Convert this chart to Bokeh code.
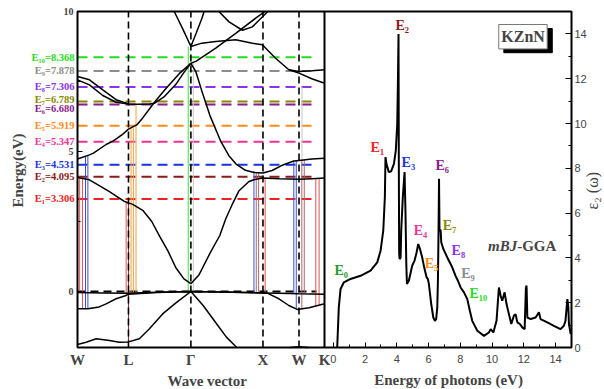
from math import pi

from bokeh.plotting import figure
from bokeh.models import Range1d, LinearAxis, FixedTicker, Label, ColumnDataSource
from bokeh.embed import file_html
from bokeh.resources import INLINE

SERIF = "Liberation Serif"
SANS = "Liberation Sans"
SUB = str.maketrans("0123456789", "₀₁₂₃₄₅₆₇₈₉")

# ---------------- band structure (k in units of 2π/a, E in eV) ----------------
kpoint_labels = ["W", "L", "Γ", "X", "W", "K"]
kpoint_pos = [0.0, 0.7071, 1.5731, 2.5731, 3.0731, 3.4267]

vb1_k = [0.0, 0.35, 0.707, 1.1, 1.573, 2.0, 2.573, 2.8, 3.073, 3.427]
vb1_e = [-0.04, -0.05, -0.06, -0.03, 0.0, -0.02, -0.05, -0.06, -0.08, -0.1]
vb2_k = [0.0, 0.144, 0.30, 0.397, 0.535, 0.674, 0.707, 1.1, 1.573, 2.0, 2.573, 2.633, 2.794, 2.932, 3.048, 3.213, 3.427]
vb2_e = [-0.62, -0.62, -0.55, -0.44, -0.26, -0.14, -0.1, -0.04, 0.0, -0.02, -0.05, -0.06, -0.26, -0.5, -0.64, -0.58, -0.44]
vb3_k = [0.0, 0.12, 0.259, 0.443, 0.581, 0.707, 0.858, 0.998, 1.181, 1.37, 1.573, 1.743, 1.929, 2.066, 2.21]
vb3_e = [-1.89, -1.81, -1.69, -1.75, -1.81, -1.8, -1.69, -1.33, -0.8, -0.4, 0.0, -0.5, -1.15, -1.63, -2.0]
vb4_k = [2.95, 3.073, 3.2]
vb4_e = [-2.0, -1.97, -2.0]

cb1_k = [0.0, 0.166, 0.443, 0.65, 0.707, 0.76, 0.905, 1.03, 1.144, 1.254, 1.365, 1.476, 1.573,
         1.687, 1.835, 1.974, 2.057, 2.154, 2.241, 2.379, 2.458, 2.573, 2.8, 3.073, 3.25, 3.427]
cb1_e = [4.07, 3.99, 3.57, 3.22, 3.16, 3.12, 2.9, 2.5, 1.95, 1.45, 0.85, 0.45, 0.28,
         0.6, 1.35, 2.0, 2.6, 3.15, 3.6, 3.93, 4.0, 4.05, 4.03, 4.01, 4.03, 4.05]
cb2_k = [1.573, 1.642, 1.72, 1.835, 1.99, 2.1, 2.2, 2.33, 2.45, 2.573, 2.7, 2.85, 3.0, 3.073, 3.25, 3.427]
cb2_e = [8.15, 7.85, 7.2, 6.3, 5.35, 4.85, 4.55, 4.33, 4.25, 4.23, 4.32, 4.52, 4.66, 4.68, 4.73, 4.76]
cb3_k = [0.0, 0.166, 0.221, 0.397, 0.498, 0.62, 0.707, 0.822, 0.905, 1.065, 1.227, 1.411, 1.573]
cb3_e = [4.73, 4.88, 4.94, 5.25, 5.38, 5.6, 5.8, 5.95, 6.2, 6.75, 7.25, 7.78, 8.15]
cb4_k = [0.0, 0.166, 0.351, 0.535, 0.707, 0.85, 1.0, 1.065, 1.2, 1.365, 1.47, 1.573]
cb4_e = [7.68, 7.56, 7.2, 6.85, 6.7, 6.69, 6.7, 6.72, 6.95, 7.4, 7.8, 8.15]
cb5_k = [0.0, 0.166, 0.351, 0.535, 0.707]
cb5_e = [7.56, 7.38, 7.0, 6.76, 6.7]
cb6_k = [1.342, 1.46, 1.573, 1.65, 1.725, 1.757]
cb6_e = [10.0, 9.38, 8.75, 9.25, 9.75, 10.0]
cb7_k = [1.573, 1.725, 1.918, 2.195, 2.426, 2.564, 2.748, 2.932, 3.073, 3.25, 3.427]
cb7_e = [8.75, 8.87, 8.93, 8.99, 8.87, 8.81, 8.33, 7.92, 7.86, 7.88, 7.92]
cb8_k = [2.932, 3.073, 3.25, 3.427]
cb8_e = [7.92, 7.8, 7.6, 7.44]
cb9_k = [1.573, 1.642, 1.918, 2.195, 2.472, 2.60]
cb9_e = [8.15, 8.22, 8.69, 9.22, 9.76, 10.0]
cb10_k = [1.962, 2.102, 2.288, 2.426, 2.64]
cb10_e = [10.0, 9.63, 9.33, 9.45, 10.0]

# critical-point transition energies E1..E10 (eV)
trans_energy = [3.306, 4.095, 4.531, 5.347, 5.919, 6.680, 6.789, 7.306, 7.878, 8.368]
trans_color = ["#ee2222", "#8b1a1a", "#1a33dd", "#ee3399", "#ff8c1a",
               "#8b1a8b", "#888800", "#8833ee", "#8c8c8c", "#22dd22"]

# vertical interband transitions drawn in the band diagram
tr_k = [0.030, 0.069, 0.111, 0.144, 0.675, 0.707, 0.743, 0.775, 0.812, 1.536, 1.607,
        2.448, 2.48, 2.513, 2.603, 3.001, 3.035, 3.112, 3.146, 3.115, 3.306, 3.352]
tr_lo = [-0.05, -0.62, -0.62, -0.62, -0.13, -1.8, -0.06, -0.06, -0.06, 0.0, 0.0,
         -0.05, -0.05, -0.05, -0.05, -0.07, -0.6, -0.62, -0.07, 4.7, -0.5, -0.47]
tr_hi = [4.06, 4.03, 4.82, 4.86, 3.2, 3.16, 5.82, 5.86, 6.7, 8.75, 8.15,
         4.3, 4.27, 4.25, 4.05, 4.66, 4.67, 4.7, 4.71, 7.31, 4.03, 4.04]
tr_color = ["#e85050", "#e85050", "#3a4fd8", "#3a4fd8", "#e85050", "#9b2323",
            "#f0a040", "#f0a040", "#f0a040", "#3ddc3d", "#c8c8c8",
            "#3a4fd8", "#a86a6a", "#a86a6a", "#e85050", "#3a4fd8", "#3a4fd8",
            "#a86a6a", "#a86a6a", "#c8c8c8", "#e85050", "#e85050"]

# ---------------- imaginary dielectric function ----------------
photon_energy = [0.25, 0.35, 0.46, 0.67, 1.09, 1.72, 2.35, 2.77, 2.98, 3.15, 3.25, 3.29, 3.35, 3.5,
                 3.65, 3.82, 3.94, 4.03, 4.07, 4.11, 4.13, 4.15, 4.18, 4.24, 4.28, 4.38, 4.49, 4.55,
                 4.6, 4.64, 4.76, 4.97, 5.12, 5.25, 5.35, 5.46, 5.6, 5.75, 5.88, 5.96, 6.02, 6.17,
                 6.3, 6.4, 6.48, 6.55, 6.59, 6.63, 6.66, 6.69, 6.76, 6.8, 6.93, 7.18, 7.49, 7.7,
                 7.85, 8.02, 8.23, 8.44, 8.6, 8.75, 9.07, 9.49, 9.8, 9.91, 10.08, 10.28, 10.43,
                 10.54, 10.64, 10.79, 10.91, 11.06, 11.21, 11.37, 11.48, 11.59, 11.75, 11.9, 12.05,
                 12.13, 12.17, 12.22, 12.43, 12.74, 12.95, 13.05, 13.48, 13.89, 14.31, 14.52,
                 14.62, 14.74, 14.8, 14.84, 14.95]
eps2 = [0.0, 1.79, 2.61, 2.91, 3.06, 3.2, 3.43, 3.8, 4.32, 5.22, 6.71, 8.5, 8.2, 7.83,
        7.87, 8.2, 8.8, 9.99, 11.78, 14.0, 8.0, 4.2, 3.95, 4.0, 5.22, 6.71, 7.83, 5.97,
        3.73, 2.84, 2.98, 3.65, 3.88, 4.25, 4.62, 4.4, 4.02, 3.5, 3.13, 3.05, 2.84, 1.94,
        1.34, 1.19, 1.27, 1.79, 2.98, 5.22, 7.53, 5.22, 5.25, 4.7, 4.4, 4.02, 3.58, 3.2,
        2.98, 2.68, 2.46, 2.16, 1.64, 1.19, 0.75, 0.52, 0.67, 0.82, 0.67, 1.19, 2.68,
        2.31, 2.09, 2.46, 1.94, 1.49, 1.05, 1.42, 1.49, 1.12, 1.05, 0.9, 0.82,
        2.68, 2.76, 1.34, 1.27, 1.34, 1.57, 1.27, 1.12, 0.97, 0.82, 0.97,
        1.19, 2.16, 1.79, 1.05, 0.6]

peak_names = ["E0", "E1", "E2", "E3", "E4", "E5", "E6", "E7", "E8", "E9", "E10"]
peak_colors = ["#1f9a2a"] + trans_color

# ---------------- layout (pixels) ----------------
FIG_W, FIG_H = 604, 389
PLOT_L, SPLIT, PLOT_R = 77, 324, 571      # panel edges
PLOT_T, PLOT_B = 11, 347
K_END = kpoint_pos[-1]
E_LO, E_HI = -2.0, 10.0
EV_LO, EV_HI = -0.55, 15.0
EPS_LO, EPS_HI = 0.0, 15.0
DASH_END = 3.316

# the frame fills the canvas; ranges are set so each panel lands on its pixel box
k_px = K_END / (SPLIT - PLOT_L)
e_px = (E_HI - E_LO) / (PLOT_B - PLOT_T)
ev_px = (EV_HI - EV_LO) / (PLOT_R - SPLIT)
eps_px = (EPS_HI - EPS_LO) / (PLOT_B - PLOT_T)
x_main = Range1d(-PLOT_L * k_px, (FIG_W - PLOT_L) * k_px)
y_main = Range1d(E_LO - (FIG_H - PLOT_B) * e_px, E_HI + PLOT_T * e_px)
x_ev = Range1d(EV_LO - SPLIT * ev_px, EV_HI + (FIG_W - PLOT_R) * ev_px)
y_eps = Range1d(EPS_LO - (FIG_H - PLOT_B) * eps_px, EPS_HI + PLOT_T * eps_px)
K_RIGHT = (PLOT_R - PLOT_L) * k_px

# label anchors (data units of each panel)
label_shift = [0, 0, 0, 0, 0, -0.15, 0.07, 0, 0, 0]
peak_lx = [0.08, 2.35, 3.92, 4.30, 5.07, 5.76, 6.44, 6.90, 7.45, 8.06, 8.58]
peak_ly = [3.44, 8.94, 14.37, 8.27, 5.22, 3.74, 8.13, 5.45, 4.33, 3.32, 2.42]

p = figure(width=FIG_W, height=FIG_H, x_range=x_main, y_range=y_main,
           x_axis_location=None, y_axis_location=None,
           output_backend="svg", toolbar_location=None,
           min_border=0, min_border_left=0, min_border_right=0,
           min_border_top=0, min_border_bottom=0)
p.extra_x_ranges = {"ev": x_ev}
p.extra_y_ranges = {"eps": y_eps}
p.grid.visible = False
p.background_fill_color = "white"
p.border_fill_color = "white"
p.outline_line_color = None

# energy axis of the band panel
e_axis = LinearAxis(fixed_location=0.0,
                    ticker=FixedTicker(ticks=[0, 5, 10], minor_ticks=[2.5, 7.5]),
                    major_tick_in=5, major_tick_out=0, minor_tick_in=3, minor_tick_out=0,
                    axis_line_color=None, major_label_text_font=SERIF,
                    major_label_text_font_style="bold", major_label_text_font_size="10px",
                    major_label_standoff=4)
p.add_layout(e_axis, "left")

# photon energy axis
ev_axis = LinearAxis(x_range_name="ev", y_range_name="eps", fixed_location=EPS_LO,
                     ticker=FixedTicker(ticks=list(range(0, 15, 2)), minor_ticks=list(range(1, 15, 2))),
                     major_tick_in=5, major_tick_out=0, minor_tick_in=3, minor_tick_out=0,
                     axis_line_color=None, major_label_text_font=SANS,
                     major_label_text_font_size="11px", major_label_text_color="#444444",
                     major_label_standoff=7)
p.add_layout(ev_axis, "below")

# epsilon_2 axis
eps_axis = LinearAxis(x_range_name="ev", y_range_name="eps", fixed_location=EV_HI,
                      ticker=FixedTicker(ticks=list(range(0, 15, 2)), minor_ticks=list(range(1, 15, 2))),
                      major_tick_in=6, major_tick_out=0, minor_tick_in=3, minor_tick_out=0,
                      axis_line_color=None, major_label_text_font=SANS,
                      major_label_text_font_size="11px", major_label_text_color="#444444",
                      major_label_standoff=3)
p.add_layout(eps_axis, "right")

# coloured transition-energy levels
lvl = ColumnDataSource(dict(x0=[0.0] * len(trans_energy), x1=[DASH_END] * len(trans_energy),
                            y=trans_energy, c=trans_color))
p.segment(x0="x0", y0="y", x1="x1", y1="y", line_color="c", line_width=2,
          line_dash="10 6", source=lvl)
# Fermi level
p.segment(x0=[0.0], y0=[0.0], x1=[DASH_END], y1=[0.0], line_color="black",
          line_width=2, line_dash="8 5")

# vertical transitions
trs = ColumnDataSource(dict(k=tr_k, lo=tr_lo, hi=tr_hi, c=tr_color))
p.segment(x0="k", y0="lo", x1="k", y1="hi", line_color="c", line_width=1, source=trs)

# bands
bands_k = [vb1_k, vb2_k, vb3_k, vb4_k, cb1_k, cb2_k, cb3_k, cb4_k, cb5_k,
           cb6_k, cb7_k, cb8_k, cb9_k, cb10_k]
bands_e = [vb1_e, vb2_e, vb3_e, vb4_e, cb1_e, cb2_e, cb3_e, cb4_e, cb5_e,
           cb6_e, cb7_e, cb8_e, cb9_e, cb10_e]
p.multi_line(xs=bands_k, ys=bands_e, line_color="black", line_width=1.5)

# high-symmetry verticals
inner_k = kpoint_pos[1:-1]
p.segment(x0=inner_k, y0=[E_LO] * len(inner_k), x1=inner_k, y1=[E_HI] * len(inner_k),
          line_color="black", line_width=1.6, line_dash="7 4")

# epsilon_2 spectrum
p.line(photon_energy, eps2, x_range_name="ev", y_range_name="eps",
       line_color="black", line_width=2)

# panel frames and separator
p.quad(left=[0.0], right=[K_RIGHT], bottom=[E_LO], top=[E_HI], fill_color=None,
       line_color="black", line_width=2)
p.segment(x0=[K_END], y0=[E_LO], x1=[K_END], y1=[E_HI], line_color="black", line_width=2)

# left labels for the transition levels
for i, (ev, c) in enumerate(zip(trans_energy, trans_color)):
    txt = "E" + str(i + 1).translate(SUB) + "=" + f"{ev:.3f}"
    p.add_layout(Label(x=0, y=ev + label_shift[i], x_offset=-3, text=txt,
                       text_align="right", text_baseline="middle", text_color=c,
                       text_font=SERIF, text_font_style="bold", text_font_size="10.5px"))

# k-point names
for name, kp in zip(kpoint_labels, kpoint_pos):
    p.add_layout(Label(x=kp, y=-2.46, text=name, text_align="center", text_baseline="middle",
                       text_font=SERIF, text_font_style="bold", text_font_size="15px"))

# peak names on the spectrum
for name, c, lx, ly in zip(peak_names, peak_colors, peak_lx, peak_ly):
    txt = name[0] + name[1:].translate(SUB)
    p.add_layout(Label(x=lx, y=ly, text=txt, x_range_name="ev", y_range_name="eps",
                       text_align="left", text_baseline="middle", text_color=c,
                       text_font=SERIF, text_font_style="bold", text_font_size="14px"))

# compound box with drop shadow
p.quad(left=[10.74], right=[13.79], top=[14.24], bottom=[13.16], x_range_name="ev",
       y_range_name="eps", fill_color="black", line_color="black")
p.quad(left=[10.42], right=[13.47], top=[14.42], bottom=[13.33], x_range_name="ev",
       y_range_name="eps", fill_color="white", line_color="#777777", line_width=1)
p.add_layout(Label(x=11.95, y=13.88, text="KZnN", x_range_name="ev", y_range_name="eps",
                   text_align="center", text_baseline="middle", text_font=SERIF,
                   text_font_style="bold", text_font_size="16px"))

# functional name
p.add_layout(Label(x=11.58, y=4.55, text="mBJ", x_range_name="ev", y_range_name="eps",
                   text_align="right", text_baseline="middle", text_font=SERIF,
                   text_font_style="bold italic", text_font_size="15px"))
p.add_layout(Label(x=11.58, y=4.55, text="-GGA", x_range_name="ev", y_range_name="eps",
                   text_align="left", text_baseline="middle", text_font=SERIF,
                   text_font_style="bold", text_font_size="15px"))

# axis titles
p.add_layout(Label(x=-0.82, y=4.32, text="Energy(eV)", angle=pi / 2, text_align="center",
                   text_baseline="middle", text_font=SERIF, text_font_style="bold",
                   text_font_size="15px"))
p.add_layout(Label(x=1.80, y=-3.18, text="Wave vector", text_align="center",
                   text_baseline="middle", text_font=SERIF, text_font_style="bold",
                   text_font_size="15px"))
p.add_layout(Label(x=7.26, y=-1.47, text="Energy of photons (eV)", x_range_name="ev",
                   y_range_name="eps", text_align="center", text_baseline="middle",
                   text_font=SERIF, text_font_style="bold", text_font_size="15px"))
p.add_layout(Label(x=16.33, y=7.0, text="ε₂ (ω)", x_range_name="ev", y_range_name="eps",
                   angle=pi / 2, text_align="center", text_baseline="middle",
                   text_font=SERIF, text_font_size="16px"))

open("out.html", "w").write(file_html(p, INLINE))
